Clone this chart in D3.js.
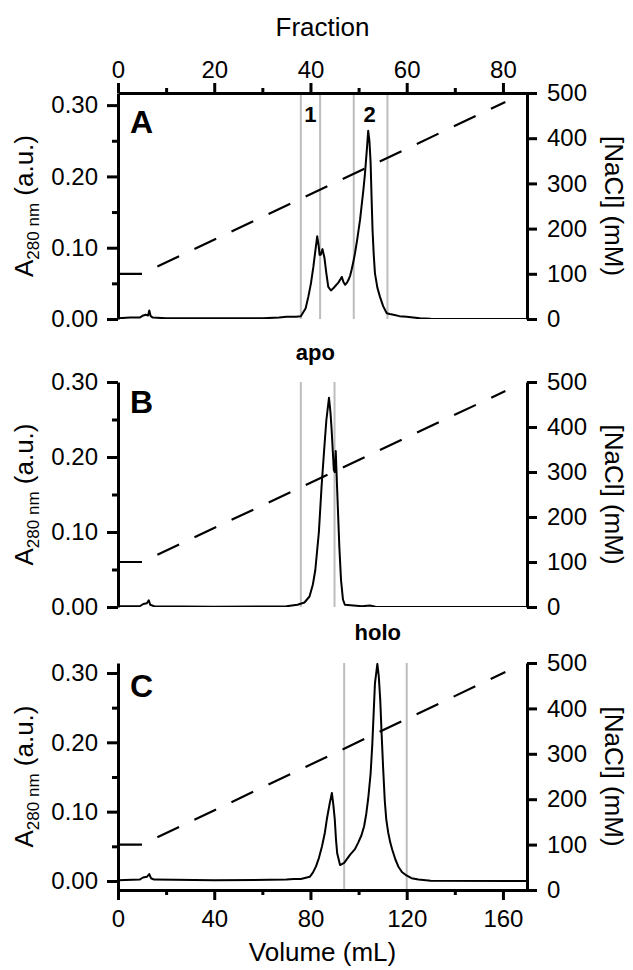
<!DOCTYPE html>
<html>
<head>
<meta charset="utf-8">
<script src="https://cdn.jsdelivr.net/npm/d3@7"></script>
<style>
  body { margin: 0; background: #fff; }
  text { font-family: "Liberation Sans", Arial, sans-serif; fill: #000; }
</style>
</head>
<body>
<svg id="chart" width="633" height="970"></svg>
<script>
// A280 traces, [volume mL, absorbance]
var traceA = [[0,0.001],[5,0.002],[9,0.002],[10.5,0.005],[11.5,0.006],[12.5,0.005],[13,0.012],[13.6,0.004],[14.5,0.002],[20,0.001],[40,0.001],[60,0.001],[67,0.002],[70,0.003],[74,0.003],[76,0.004],[78,0.015],[79.1,0.031],[80.2,0.05],[81.2,0.073],[82,0.095],[82.8,0.116],[83.4,0.103],[83.8,0.09],[84.3,0.09],[85,0.098],[85.8,0.086],[86.6,0.064],[87.4,0.045],[88.5,0.04],[89.5,0.043],[90.5,0.047],[91.6,0.051],[92.5,0.056],[93,0.059],[93.7,0.052],[94.4,0.048],[95.2,0.051],[95.8,0.055],[96.5,0.061],[97.1,0.069],[97.8,0.08],[98.5,0.092],[99.5,0.113],[100.6,0.139],[101.3,0.16],[102,0.181],[102.6,0.202],[103.1,0.223],[103.6,0.245],[104,0.264],[104.5,0.25],[105,0.219],[105.4,0.17],[105.8,0.125],[106.3,0.09],[106.8,0.064],[107.8,0.044],[108.9,0.031],[110.2,0.018],[111.7,0.008],[113,0.007],[114.5,0.006],[117,0.004],[120,0.003],[125.5,0.001],[130,0.0005],[150,0],[170,0]];
var traceB = [[0,0.001],[9,0.001],[10.5,0.004],[12,0.005],[12.8,0.009],[13.4,0.003],[15,0.001],[40,0.0005],[70,0.001],[74.6,0.003],[77.5,0.006],[79.6,0.014],[81,0.03],[82,0.049],[83.5,0.1],[84.6,0.16],[85.7,0.21],[86.6,0.249],[87.7,0.279],[88.3,0.26],[88.8,0.236],[89.7,0.183],[90.1,0.18],[90.5,0.208],[91.3,0.139],[92,0.08],[92.7,0.036],[93.5,0.01],[94.3,0.003],[101.4,0.001],[104.7,0.002],[107,0.0005],[170,0]];
var traceC = [[0,0.001],[9,0.002],[10.4,0.005],[12,0.006],[13,0.01],[13.7,0.004],[15,0.002],[40,0.001],[70,0.002],[73,0.003],[76,0.003],[79.7,0.006],[81,0.012],[82.3,0.021],[83.5,0.033],[84.8,0.05],[86,0.07],[86.8,0.089],[88,0.112],[88.9,0.127],[89.5,0.11],[90.1,0.089],[90.6,0.06],[91.1,0.04],[92.3,0.023],[94,0.026],[96.5,0.038],[98.5,0.046],[99.8,0.055],[101.2,0.066],[102.3,0.079],[103.2,0.097],[104,0.119],[105,0.155],[105.7,0.197],[106.3,0.245],[106.8,0.285],[107.8,0.313],[108.4,0.295],[109,0.261],[109.6,0.21],[110.2,0.163],[110.9,0.115],[111.5,0.089],[112.3,0.07],[113.2,0.055],[114,0.045],[115.3,0.031],[116.5,0.021],[118,0.013],[119.9,0.008],[122,0.004],[124.9,0.002],[130,0.0005],[170,0]];

// NaCl gradient, [volume mL, mM]
var gradient = [[0,100],[10,100],[161,480]];

// fraction cuts (grey lines) and labels
var cutsA = [38, 42, 49, 56];
var cutsB = [38, 45];
var cutsC = [47, 60];
var labelsA = [[40, "1"], [52.3, "2"]];
var labelsB = [[41, "apo"]];
var labelsC = [[54, "holo"]];

// ticks
var absTicks = [0, 0.1, 0.2, 0.3];
var absMinor = [0.05, 0.15, 0.25];
var naclTicks = [0, 100, 200, 300, 400, 500];
var volTicks = [0, 40, 80, 120, 160];
var volMinor = [20, 60, 100, 140];
var fracTicks = [0, 20, 40, 60, 80];
var fracMinor = [10, 30, 50, 70];

var left = 118, right = 527;
var tickFont = 24, titleFont = 26;
var svg = d3.select("#chart");

var x = d3.scaleLinear().domain([0, 170]).range([left, right]);
var xf = d3.scaleLinear().domain([0, 85]).range([left, right]);

var panels = [
  {id: "A", top: 93,  bottom: 319, abs: [0, 0.317],       trace: traceA, cuts: cutsA, labels: labelsA, labelY: 122, letterY: 133},
  {id: "B", top: 382, bottom: 607, abs: [0, 0.30],        trace: traceB, cuts: cutsB, labels: labelsB, labelY: 360, letterY: 413},
  {id: "C", top: 663, bottom: 890, abs: [-0.013, 0.3144], trace: traceC, cuts: cutsC, labels: labelsC, labelY: 640, letterY: 697}
];

function styleAxis(g) {
  g.select(".domain").attr("stroke-width", 3).attr("stroke", "#000");
  g.selectAll(".tick line").attr("stroke-width", 3).attr("stroke", "#000");
  g.selectAll(".tick text").style("font-size", tickFont + "px").attr("fill", "#000");
}

panels.forEach(function (p) {
  var y = d3.scaleLinear().domain(p.abs).range([p.bottom, p.top]);
  var yn = d3.scaleLinear().domain([0, 500]).range([p.bottom, p.top]);
  var g = svg.append("g");

  g.append("clipPath").attr("id", "clip" + p.id)
    .append("rect").attr("x", left).attr("y", p.top)
    .attr("width", right - left).attr("height", p.bottom - p.top);

  // grey fraction lines
  g.selectAll(".cut").data(p.cuts).enter().append("line")
    .attr("x1", function (d) { return xf(d); }).attr("x2", function (d) { return xf(d); })
    .attr("y1", p.top).attr("y2", p.bottom)
    .attr("stroke", "#bdbdbd").attr("stroke-width", 2);

  // salt gradient
  g.append("path").datum(gradient)
    .attr("d", d3.line().x(function (d) { return x(d[0]); }).y(function (d) { return yn(d[1]); }))
    .attr("fill", "none").attr("stroke", "#000").attr("stroke-width", 2.2)
    .attr("stroke-dasharray", "24 17");

  // absorbance trace
  g.append("path").datum(p.trace)
    .attr("clip-path", "url(#clip" + p.id + ")")
    .attr("d", d3.line().x(function (d) { return x(d[0]); }).y(function (d) { return y(d[1]); }))
    .attr("fill", "none").attr("stroke", "#000").attr("stroke-width", 2)
    .attr("stroke-linejoin", "round");

  // left axis
  var la = g.append("g").attr("transform", "translate(" + left + ",0)")
    .call(d3.axisLeft(y).tickValues(absTicks).tickFormat(d3.format(".2f")).tickSize(11).tickSizeOuter(0).tickPadding(9));
  styleAxis(la);
  var lm = g.append("g").attr("transform", "translate(" + left + ",0)")
    .call(d3.axisLeft(y).tickValues(absMinor).tickFormat("").tickSize(6).tickSizeOuter(0));
  styleAxis(lm);
  lm.select(".domain").remove();

  // right axis
  var ra = g.append("g").attr("transform", "translate(" + right + ",0)")
    .call(d3.axisRight(yn).tickValues(naclTicks).tickSize(10).tickSizeOuter(0).tickPadding(10));
  styleAxis(ra);

  // panel letter
  g.append("text").attr("x", 130).attr("y", p.letterY)
    .style("font-size", "32px").style("font-weight", "bold").text(p.id);

  // peak labels
  g.selectAll(".lbl").data(p.labels).enter().append("text")
    .attr("x", function (d) { return xf(d[0]); }).attr("y", p.labelY)
    .attr("text-anchor", "middle").style("font-size", "22px").style("font-weight", "bold")
    .text(function (d) { return d[1]; });

  // left title
  var mid = (p.top + p.bottom) / 2;
  var lt = g.append("text").attr("transform", "translate(33," + mid + ") rotate(-90)")
    .attr("text-anchor", "middle").style("font-size", titleFont + "px");
  lt.append("tspan").text("A");
  lt.append("tspan").attr("dy", 6).style("font-size", "17px").text("280 nm");
  lt.append("tspan").attr("dy", -6).text(" (a.u.)");

  // right title
  g.append("text").attr("transform", "translate(605," + mid + ") rotate(90)")
    .attr("text-anchor", "middle").style("font-size", titleFont + "px").text("[NaCl] (mM)");

  if (p.id === "A") {
    var ta = g.append("g").attr("transform", "translate(0," + p.top + ")")
      .call(d3.axisTop(xf).tickValues(fracTicks).tickSize(10).tickSizeOuter(0).tickPadding(5));
    styleAxis(ta);
    var tm = g.append("g").attr("transform", "translate(0," + p.top + ")")
      .call(d3.axisTop(xf).tickValues(fracMinor).tickFormat("").tickSize(5).tickSizeOuter(0));
    styleAxis(tm);
    tm.select(".domain").remove();
    g.append("text").attr("x", (left + right) / 2).attr("y", 36)
      .attr("text-anchor", "middle").style("font-size", titleFont + "px").text("Fraction");
  }
  if (p.id === "C") {
    var ba = g.append("g").attr("transform", "translate(0," + p.bottom + ")")
      .call(d3.axisBottom(x).tickValues(volTicks).tickSize(10).tickSizeOuter(0).tickPadding(10));
    styleAxis(ba);
    var bm = g.append("g").attr("transform", "translate(0," + p.bottom + ")")
      .call(d3.axisBottom(x).tickValues(volMinor).tickFormat("").tickSize(5).tickSizeOuter(0));
    styleAxis(bm);
    bm.select(".domain").remove();
    g.append("text").attr("x", (left + right) / 2).attr("y", 961)
      .attr("text-anchor", "middle").style("font-size", titleFont + "px").text("Volume (mL)");
  }
});
</script>
</body>
</html>
